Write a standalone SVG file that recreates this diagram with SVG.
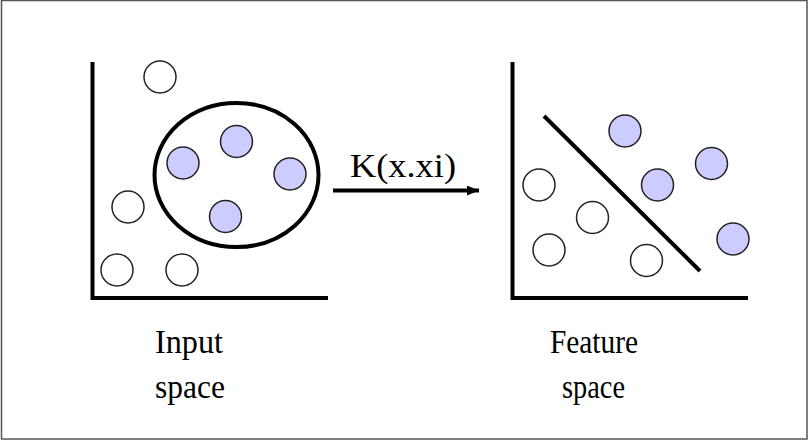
<svg xmlns="http://www.w3.org/2000/svg" width="809" height="441" viewBox="0 0 809 441">
<style>
.axis{fill:none;stroke:#000;stroke-width:4}
.w{fill:#fff;stroke:#222;stroke-width:1.5}
.b{fill:#ccccff;stroke:#222;stroke-width:1.5}
.t{font-family:"Liberation Serif","Times New Roman",serif;font-size:34px;fill:#000}
</style>
<defs>
<marker id="ah" markerWidth="3" markerHeight="2.5" refX="3" refY="1.25" orient="auto" markerUnits="strokeWidth">
<path d="M0,0 L3,1.25 L0,2.5 z" fill="#000"/>
</marker>
</defs>
<rect x="0" y="0" width="809" height="441" fill="#fff"/>
<rect x="1.5" y="0.5" width="805.5" height="438.5" fill="none" stroke="#555" stroke-width="1.5"/>
<g id="input-space">
<path class="axis" d="M92.5,62 V298 H328"/>
<circle class="w" cx="160" cy="77" r="16"/>
<circle class="w" cx="128" cy="207" r="16"/>
<circle class="w" cx="117" cy="270" r="16"/>
<circle class="w" cx="182" cy="270" r="16"/>
<ellipse cx="236.5" cy="175" rx="82" ry="72" fill="none" stroke="#000" stroke-width="4"/>
<circle class="b" cx="183" cy="163" r="16"/>
<circle class="b" cx="236.5" cy="141.5" r="16"/>
<circle class="b" cx="290" cy="174" r="16"/>
<circle class="b" cx="225.5" cy="216.5" r="16"/>
</g>
<g id="feature-space">
<path class="axis" d="M512.5,62 V298 H748"/>
<line x1="544" y1="116" x2="700" y2="271" stroke="#000" stroke-width="4"/>
<circle class="b" cx="625" cy="131" r="16"/>
<circle class="b" cx="711.5" cy="163.5" r="16"/>
<circle class="b" cx="657.5" cy="185" r="16"/>
<circle class="b" cx="733" cy="239" r="16"/>
<circle class="w" cx="539" cy="185" r="16"/>
<circle class="w" cx="592.5" cy="217.5" r="16"/>
<circle class="w" cx="549" cy="250" r="16"/>
<circle class="w" cx="646.5" cy="260.5" r="16"/>
</g>
<g id="connectors">
<line x1="333" y1="190.5" x2="479" y2="190.5" stroke="#000" stroke-width="4" marker-end="url(#ah)"/>
<text class="t" x="350" y="177" textLength="106" lengthAdjust="spacingAndGlyphs">K(x.xi)</text>
</g>
<g id="labels">
<text class="t" x="155" y="353" textLength="68" lengthAdjust="spacingAndGlyphs">Input</text>
<text class="t" x="155" y="398" textLength="70" lengthAdjust="spacingAndGlyphs">space</text>
<text class="t" x="550" y="353" textLength="88" lengthAdjust="spacingAndGlyphs">Feature</text>
<text class="t" x="562" y="398" textLength="63" lengthAdjust="spacingAndGlyphs">space</text>
</g>
</svg>
